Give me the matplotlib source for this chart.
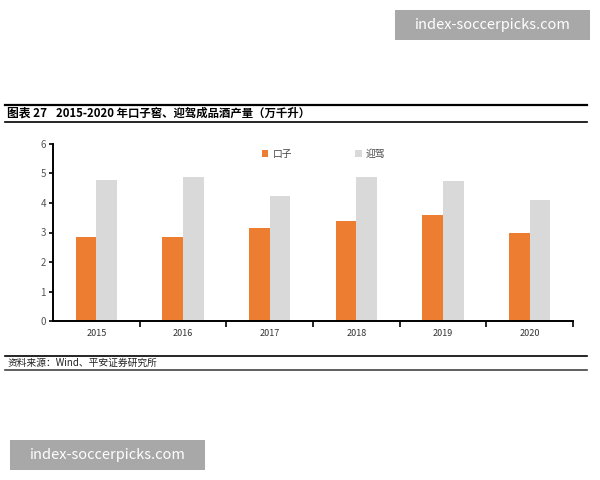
import matplotlib.pyplot as plt
import numpy as np
from matplotlib.patches import Rectangle

plt.rcParams['font.family'] = ['Noto Sans CJK SC', 'DejaVu Sans']

years = ['2015', '2016', '2017', '2018', '2019', '2020']
kouzi = [2.86, 2.86, 3.16, 3.39, 3.59, 3.00]
yingjia = [4.78, 4.88, 4.24, 4.88, 4.75, 4.10]
series_names = ['口子', '迎驾']

fig = plt.figure(figsize=(6, 4.8), dpi=100)

# 标题 + 横线
fig.add_artist(plt.Line2D([0.008, 0.978], [1 - 105 / 480] * 2, color='black', lw=1.6))
fig.add_artist(plt.Line2D([0.008, 0.978], [1 - 122 / 480] * 2, color='black', lw=1.2))
fig.text(0.012, 1 - 113.5 / 480, '图表 27', fontsize=8.5, fontweight='bold', va='center')
fig.text(0.093, 1 - 113.5 / 480, '2015-2020 年口子窖、迎驾成品酒产量（万千升）',
         fontsize=8.2, fontweight='bold', va='center')

ax = fig.add_axes([53 / 600, 1 - 321 / 480, 520 / 600, 177 / 480])
x = np.arange(len(years))
w = 0.24
ax.bar(x - w / 2, kouzi, w, color='#ed7d31', label=series_names[0])
ax.bar(x + w / 2, yingjia, w, color='#d9d9d9', label=series_names[1])

ax.set_xlim(-0.5, len(years) - 0.5)
ax.set_ylim(0, 6)
ax.set_yticks(range(7))
ax.set_xticks(x)
ax.set_xticklabels(years, fontsize=6.5, color='#333333')
ax.set_xticks(np.arange(0.5, len(years) + 0.5, 1), minor=True)
ax.tick_params(axis='x', which='major', length=0, pad=6)
ax.tick_params(axis='x', which='minor', length=4, width=1.2, direction='out')
ax.tick_params(axis='y', labelsize=7, labelcolor='#555555', length=3, width=1.2, pad=2)
for s in ['top', 'right']:
    ax.spines[s].set_visible(False)
ax.spines['left'].set_linewidth(1.4)
ax.spines['bottom'].set_linewidth(1.4)
ax.spines['bottom'].set_clip_on(False)

ax.legend(loc='upper center', bbox_to_anchor=(0.52, 1.02), ncol=2, frameon=False,
          fontsize=7, handlelength=0.7, handleheight=0.7, columnspacing=6.5,
          handletextpad=0.4, labelcolor='#444444')

# 资料来源
fig.add_artist(plt.Line2D([0.008, 0.978], [1 - 356 / 480] * 2, color='black', lw=1.2))
fig.add_artist(plt.Line2D([0.008, 0.978], [1 - 370 / 480] * 2, color='#444444', lw=1.2))
fig.text(0.012, 1 - 363 / 480, '资料来源：Wind、平安证券研究所', fontsize=7,
         style='italic', va='center', color='#222222')

# 水印
for (x0, y0) in [(395, 10), (10, 440)]:
    fig.add_artist(Rectangle((x0 / 600, 1 - (y0 + 30) / 480), 195 / 600, 30 / 480,
                             transform=fig.transFigure, color='#a8a8a8', lw=0))
    fig.text((x0 + 97.5) / 600, 1 - (y0 + 15) / 480, 'index-soccerpicks.com',
             fontsize=10.5, color='white', ha='center', va='center')

fig.savefig('out.png', dpi=100)
